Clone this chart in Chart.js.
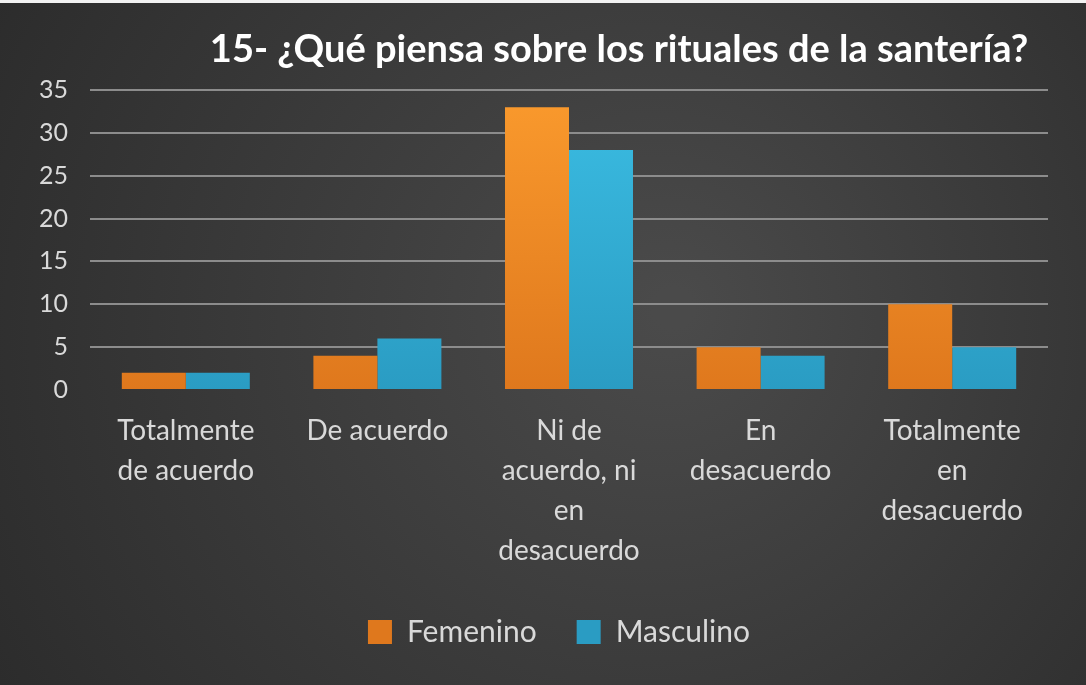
<!DOCTYPE html>
<html>
<head>
<meta charset="utf-8">
<script src="https://cdn.jsdelivr.net/npm/chart.js@4"></script>
<style>
html,body{margin:0;padding:0;background:#333;}
#wrap{width:1086px;height:685px;position:relative;}
</style>
</head>
<body>
<div id="wrap"><canvas id="c" width="1086" height="685"></canvas></div>
<script>
const categories = [
  ["Totalmente", "de acuerdo"],
  ["De acuerdo"],
  ["Ni de", "acuerdo, ni", "en", "desacuerdo"],
  ["En", "desacuerdo"],
  ["Totalmente", "en", "desacuerdo"]
];
const femenino = [2, 4, 33, 5, 10];
const masculino = [2, 6, 28, 4, 5];
const seriesNames = ["Femenino", "Masculino"];
const titleText = "15- ¿Qué piensa sobre los rituales de la santería?";
const yTicks = [0, 5, 10, 15, 20, 25, 30, 35];

const FONT = "Lato, 'Open Sans', sans-serif";

function grad(ctx, top, bottom, solid) {
  const chart = ctx.chart;
  const area = chart.chartArea;
  if (!area) return solid;
  const g = chart.ctx.createLinearGradient(0, area.top, 0, area.bottom);
  g.addColorStop(0, top);
  g.addColorStop(1, bottom);
  return g;
}

const bgPlugin = {
  id: 'bg',
  beforeDraw(chart) {
    const c = chart.ctx, w = chart.width, h = chart.height;
    c.save();
    const g = c.createRadialGradient(w*0.62, h*0.45, 20, w*0.55, h*0.5, w*0.75);
    g.addColorStop(0, '#4a4a4a');
    g.addColorStop(1, '#272727');
    c.fillStyle = g;
    c.fillRect(0, 0, w, h);
    c.fillStyle = '#f2f2f2';
    c.fillRect(0, 0, w, 3);
    c.restore();
  }
};

const titlePlugin = {
  id: 'customTitle',
  afterDraw(chart) {
    const c = chart.ctx;
    c.save();
    c.font = "bold 38px " + FONT;
    c.fillStyle = '#ffffff';
    c.textAlign = 'center';
    c.textBaseline = 'middle';
    c.fillText(titleText, 619, 50);
    c.restore();
  }
};

const legendShift = {
  id: 'legendShift',
  afterLayout(chart) {
    if (chart.legend) chart.legend.left += 70;
  }
};

new Chart(document.getElementById('c'), {
  type: 'bar',
  data: {
    labels: categories,
    datasets: [
      {
        label: seriesNames[0],
        data: femenino,
        backgroundColor: ctx => grad(ctx, '#fa9a2d', '#df781d', '#f28a24'),
        borderWidth: 0
      },
      {
        label: seriesNames[1],
        data: masculino,
        backgroundColor: ctx => grad(ctx, '#3bbde3', '#2a9cc3', '#2fb0d8'),
        borderWidth: 0
      }
    ]
  },
  options: {
    responsive: false,
    animation: false,
    devicePixelRatio: 1,
    layout: { padding: { top: 90, right: 38, left: 0, bottom: 28 } },
    datasets: { bar: { categoryPercentage: 0.668, barPercentage: 1.0 } },
    scales: {
      x: {
        afterFit: scale => { scale.height = 187; },
        grid: { display: false, drawTicks: false },
        border: { display: false },
        ticks: {
          color: '#d9d9d9',
          font: { family: FONT, size: 28, lineHeight: 1.43 },
          padding: 21,
          maxRotation: 0,
          autoSkip: false
        }
      },
      y: {
        min: 0, max: 35,
        afterBuildTicks: scale => { scale.ticks = yTicks.map(v => ({ value: v })); },
        afterFit: scale => { scale.width = 90; },
        grid: {
          color: ctx => ctx.tick && ctx.tick.value === 0 ? 'rgba(0,0,0,0)' : '#8c8c8c',
          lineWidth: 2,
          drawTicks: false
        },
        border: { display: false },
        ticks: {
          color: '#d9d9d9',
          font: { family: FONT, size: 25 },
          padding: 22
        }
      }
    },
    plugins: {
      title: { display: false },
      tooltip: { enabled: false },
      legend: {
        position: 'bottom',
        labels: {
          color: '#d9d9d9',
          font: { family: FONT, size: 30 },
          boxWidth: 24,
          boxHeight: 24,
          padding: 40
        }
      }
    }
  },
  plugins: [bgPlugin, titlePlugin, legendShift]
});
</script>
</body>
</html>
